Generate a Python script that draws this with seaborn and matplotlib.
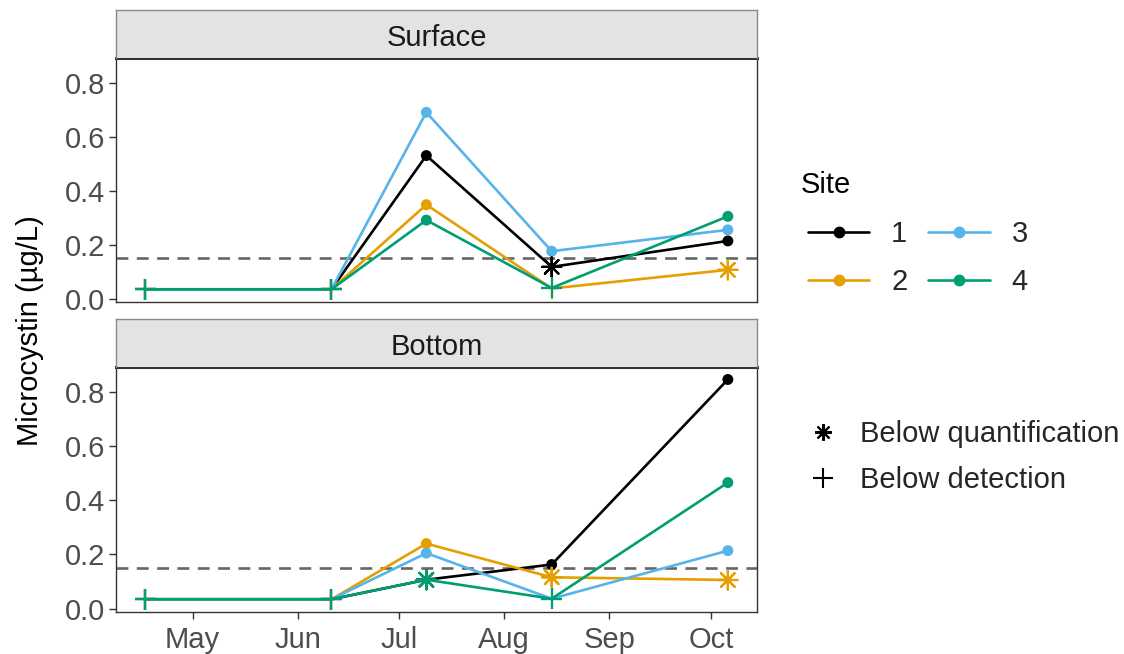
import pandas as pd
import matplotlib
matplotlib.use("Agg")
import matplotlib.pyplot as plt
import matplotlib.dates as mdates
from matplotlib.lines import Line2D
import seaborn as sns

# ---- data -------------------------------------------------------------
sample_dates = ["2021-04-17", "2021-06-11", "2021-07-09", "2021-08-15", "2021-10-06"]
sites = ["1", "2", "3", "4"]
site_colors = ["#000000", "#E69F00", "#56B4E9", "#009E73"]
depths = ["Surface", "Bottom"]

# Microcystin (µg/L) per site; D = detected, Q = below quantification, N = below detection
surface_site1 = [0.035, 0.035, 0.530, 0.118, 0.214]
surface_site2 = [0.035, 0.035, 0.348, 0.038, 0.107]
surface_site3 = [0.035, 0.035, 0.690, 0.176, 0.255]
surface_site4 = [0.035, 0.035, 0.291, 0.040, 0.305]
surface_flag1 = ["N", "N", "D", "Q", "D"]
surface_flag2 = ["N", "N", "D", "N", "Q"]
surface_flag3 = ["N", "N", "D", "D", "D"]
surface_flag4 = ["N", "N", "D", "N", "D"]

bottom_site1 = [0.035, 0.035, 0.107, 0.163, 0.845]
bottom_site2 = [0.035, 0.035, 0.240, 0.116, 0.106]
bottom_site3 = [0.035, 0.035, 0.205, 0.037, 0.214]
bottom_site4 = [0.035, 0.035, 0.107, 0.037, 0.465]
bottom_flag1 = ["N", "N", "Q", "D", "D"]
bottom_flag2 = ["N", "N", "D", "Q", "Q"]
bottom_flag3 = ["N", "N", "D", "N", "D"]
bottom_flag4 = ["N", "N", "Q", "N", "D"]

quant_limit = 0.15
y_ticks = [0.0, 0.2, 0.4, 0.6, 0.8]
flag_labels = {"Q": "Below quantification", "N": "Below detection"}

# ---- tidy table ---------------------------------------------------------
rows = []
series = {
    "Surface": ([surface_site1, surface_site2, surface_site3, surface_site4],
                [surface_flag1, surface_flag2, surface_flag3, surface_flag4]),
    "Bottom": ([bottom_site1, bottom_site2, bottom_site3, bottom_site4],
               [bottom_flag1, bottom_flag2, bottom_flag3, bottom_flag4]),
}
for depth in depths:
    vals, flags = series[depth]
    for site, v, f in zip(sites, vals, flags):
        for d, val, fl in zip(sample_dates, v, f):
            rows.append(dict(depth=depth, site=site, date=pd.Timestamp(d), value=val, flag=fl))
df = pd.DataFrame(rows)

# ---- styling --------------------------------------------------------------
sns.set_theme(style="white")
plt.rcParams["font.family"] = ["Liberation Sans", "DejaVu Sans"]
FS = 21
TICK_COLOR = "#4D4D4D"
PANEL_EDGE = "#333333"

W, H = 1124, 654
fig = plt.figure(figsize=(W / 100, H / 100), dpi=100)

def fig_rect(x0, y0, x1, y1):
    return [x0 / W, 1 - y1 / H, (x1 - x0) / W, (y1 - y0) / H]

panel_boxes = {"Surface": (116, 58, 757, 302), "Bottom": (116, 367, 757, 612)}
strip_boxes = {"Surface": (116, 10, 757, 58), "Bottom": (116, 319, 757, 367)}

d0 = pd.Timestamp(sample_dates[0])
d1 = pd.Timestamp(sample_dates[-1])
pad = (d1 - d0) * 0.05
xlim = (d0 - pad, d1 + pad)
ylim = (-0.012, 0.891)

marker_specs = {
    "D": dict(marker="o", s=62, linewidth=0),
    "Q": dict(marker=(8, 2, 0), s=190, linewidth=1.6),
    "N": dict(marker="+", s=230, linewidth=1.6),
}

for depth in depths:
    ax = fig.add_axes(fig_rect(*panel_boxes[depth]))
    sub = df[df.depth == depth]
    sns.lineplot(data=sub, x="date", y="value", hue="site", hue_order=sites,
                 palette=site_colors, linewidth=1.9, legend=False, ax=ax,
                 estimator=None, sort=True, zorder=2)
    ax.axhline(quant_limit, color="#666666", linestyle=(0, (4.5, 3.2)),
               linewidth=1.9, zorder=1.5)
    for fl in ["D", "Q", "N"]:
        pts = sub[sub.flag == fl]
        if pts.empty:
            continue
        spec = marker_specs[fl]
        sns.scatterplot(data=pts, x="date", y="value", hue="site", hue_order=sites,
                        palette=site_colors, marker=spec["marker"], s=spec["s"],
                        linewidth=spec["linewidth"], legend=False, ax=ax, zorder=3)
    ax.set_xlim(*xlim)
    ax.set_ylim(*ylim)
    ax.set_yticks(y_ticks)
    ax.set_yticklabels([f"{t:.1f}" for t in y_ticks])
    ax.set_xlabel("")
    ax.set_ylabel("")
    ax.xaxis.set_major_locator(mdates.MonthLocator())
    ax.xaxis.set_major_formatter(mdates.DateFormatter("%b"))
    ax.tick_params(axis="both", length=5, width=1, color=PANEL_EDGE,
                   labelsize=FS, labelcolor=TICK_COLOR,
                   left=True, bottom=True)
    ax.tick_params(axis="y", pad=3)
    ax.tick_params(axis="x", pad=5)
    if depth == "Surface":
        ax.tick_params(axis="x", bottom=False, labelbottom=False)
    for side, sp in ax.spines.items():
        sp.set_color(PANEL_EDGE)
        sp.set_linewidth(1.0)
        sp.set_visible(True)
    ax.spines["top"].set_linewidth(2.2)

    sax = fig.add_axes(fig_rect(*strip_boxes[depth]))
    sax.set_facecolor("#E3E3E3")
    sax.set_xticks([])
    sax.set_yticks([])
    for sp in sax.spines.values():
        sp.set_color("#8A8A8A")
        sp.set_linewidth(1.0)
        sp.set_visible(True)
    sax.spines["bottom"].set_visible(False)
    sax.text(0.5, 0.42, depth, transform=sax.transAxes, ha="center", va="center",
             fontsize=FS, color="#1A1A1A")

fig.text(30 / W, 1 - 331 / H, "Microcystin (µg/L)", rotation=90,
         ha="center", va="center", fontsize=FS, color="black")

# ---- legends --------------------------------------------------------------
fig.text(801 / W, 1 - 185 / H, "Site", ha="left", va="center",
         fontsize=FS, color="black")
site_handles = [Line2D([0], [0], color=c, lw=1.9, marker="o", markersize=7.5)
                for c in site_colors]
leg1 = fig.legend(site_handles, sites, ncol=2, frameon=False,
                  loc="upper left", bbox_to_anchor=(808 / W, 1 - 220 / H),
                  fontsize=FS, handlelength=2.1,
                  handletextpad=0.75, columnspacing=0.72, labelspacing=0.68,
                  borderpad=0, borderaxespad=0)

flag_handles = [
    Line2D([0], [0], color="black", linestyle="", marker=(8, 2, 0),
           markersize=12, markeredgewidth=1.5),
    Line2D([0], [0], color="black", linestyle="", marker="+",
           markersize=15, markeredgewidth=1.5),
]
leg2 = fig.legend(flag_handles, [flag_labels["Q"], flag_labels["N"]],
                  frameon=False, loc="upper left",
                  bbox_to_anchor=(808 / W, 1 - 420 / H), fontsize=FS,
                  handlelength=1.0, handletextpad=0.8, labelspacing=0.62,
                  borderpad=0, borderaxespad=0)

fig.savefig("out.png", dpi=100, facecolor="white")
